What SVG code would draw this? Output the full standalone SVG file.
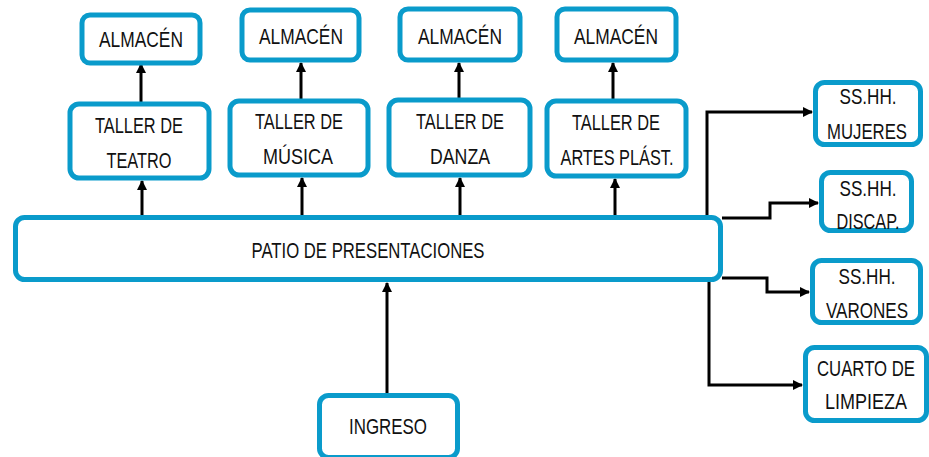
<svg xmlns="http://www.w3.org/2000/svg" width="929" height="457" viewBox="0 0 929 457">
<defs>
<style>
.box{fill:#fff;stroke:#0A9BCB;stroke-width:5}
.t{font-family:"Liberation Sans",Arial,sans-serif;font-size:22px;fill:#111;text-anchor:middle}
.c{fill:none;stroke:#000;stroke-width:3}
</style>
<marker id="ah" viewBox="0 0 10 10" refX="9" refY="5" markerWidth="3.4" markerHeight="3.6" orient="auto" markerUnits="strokeWidth">
<path d="M0,0 L10,5 L0,10 z" fill="#000"/>
</marker>
</defs>
<rect width="929" height="457" fill="#fff"/>
<g id="connectors">
<path class="c" d="M141,102 V64" marker-end="url(#ah)"/>
<path class="c" d="M142,217 V181" marker-end="url(#ah)"/>
<path class="c" d="M301,99 V63" marker-end="url(#ah)"/>
<path class="c" d="M302,217 V178" marker-end="url(#ah)"/>
<path class="c" d="M459,98 V63" marker-end="url(#ah)"/>
<path class="c" d="M460,217 V178" marker-end="url(#ah)"/>
<path class="c" d="M613,99 V63" marker-end="url(#ah)"/>
<path class="c" d="M615,217 V179" marker-end="url(#ah)"/>
<path class="c" d="M387,393 V283" marker-end="url(#ah)"/>
<path class="c" d="M707,218 V112 H812" marker-end="url(#ah)"/>
<path class="c" d="M722,218 H770 V203 H818" marker-end="url(#ah)"/>
<path class="c" d="M722,278 H767 V292 H809" marker-end="url(#ah)"/>
<path class="c" d="M709,278 V385 H802" marker-end="url(#ah)"/>
</g>
<g id="almacen1"><rect class="box" x="82" y="15" width="118" height="48" rx="8"/><text class="t" x="141" y="47" textLength="84" lengthAdjust="spacingAndGlyphs">ALMACÉN</text></g>
<g id="almacen2"><rect class="box" x="242" y="10" width="117" height="50" rx="8"/><text class="t" x="301" y="44" textLength="84" lengthAdjust="spacingAndGlyphs">ALMACÉN</text></g>
<g id="almacen3"><rect class="box" x="400" y="9" width="120" height="51" rx="8"/><text class="t" x="460" y="44" textLength="84" lengthAdjust="spacingAndGlyphs">ALMACÉN</text></g>
<g id="almacen4"><rect class="box" x="557" y="9" width="119" height="51" rx="8"/><text class="t" x="616" y="44" textLength="84" lengthAdjust="spacingAndGlyphs">ALMACÉN</text></g>
<g id="taller_teatro"><rect class="box" x="70" y="104" width="139" height="74" rx="9"/><text class="t" x="139" y="133" textLength="88" lengthAdjust="spacingAndGlyphs">TALLER DE</text><text class="t" x="139" y="168" textLength="65" lengthAdjust="spacingAndGlyphs">TEATRO</text></g>
<g id="taller_musica"><rect class="box" x="230" y="101" width="138" height="74" rx="9"/><text class="t" x="299" y="129" textLength="88" lengthAdjust="spacingAndGlyphs">TALLER DE</text><text class="t" x="298" y="164" textLength="70" lengthAdjust="spacingAndGlyphs">MÚSICA</text></g>
<g id="taller_danza"><rect class="box" x="389" y="100" width="141" height="75" rx="9"/><text class="t" x="460" y="129" textLength="88" lengthAdjust="spacingAndGlyphs">TALLER DE</text><text class="t" x="460" y="164" textLength="60" lengthAdjust="spacingAndGlyphs">DANZA</text></g>
<g id="taller_artes"><rect class="box" x="547" y="101" width="139" height="75" rx="9"/><text class="t" x="616" y="130" textLength="88" lengthAdjust="spacingAndGlyphs">TALLER DE</text><text class="t" x="617" y="165" textLength="113" lengthAdjust="spacingAndGlyphs">ARTES PLÁST.</text></g>
<g id="patio"><rect class="box" x="15.5" y="217.5" width="705" height="62" rx="9"/><text class="t" x="368" y="258" textLength="233" lengthAdjust="spacingAndGlyphs">PATIO DE PRESENTACIONES</text></g>
<g id="ingreso"><rect class="box" x="319.5" y="395.5" width="138" height="62" rx="9"/><text class="t" x="388" y="434" textLength="78" lengthAdjust="spacingAndGlyphs">INGRESO</text></g>
<g id="sshh_mujeres"><rect class="box" x="815.5" y="82.5" width="105" height="62" rx="9"/><text class="t" x="868" y="104" textLength="57" lengthAdjust="spacingAndGlyphs">SS.HH.</text><text class="t" x="867" y="139" textLength="80" lengthAdjust="spacingAndGlyphs">MUJERES</text></g>
<g id="sshh_discap"><rect class="box" x="821.5" y="172.5" width="90" height="58" rx="9"/><text class="t" x="868" y="196" textLength="57" lengthAdjust="spacingAndGlyphs">SS.HH.</text><text class="t" x="868" y="229" textLength="63" lengthAdjust="spacingAndGlyphs">DISCAP.</text></g>
<g id="sshh_varones"><rect class="box" x="812.5" y="260.5" width="108" height="62" rx="9"/><text class="t" x="867" y="284" textLength="57" lengthAdjust="spacingAndGlyphs">SS.HH.</text><text class="t" x="867" y="318" textLength="82" lengthAdjust="spacingAndGlyphs">VARONES</text></g>
<g id="cuarto_limpieza"><rect class="box" x="805.5" y="347.5" width="121" height="73" rx="9"/><text class="t" x="866" y="376" textLength="98" lengthAdjust="spacingAndGlyphs">CUARTO DE</text><text class="t" x="866" y="409" textLength="82" lengthAdjust="spacingAndGlyphs">LIMPIEZA</text></g>
</svg>
